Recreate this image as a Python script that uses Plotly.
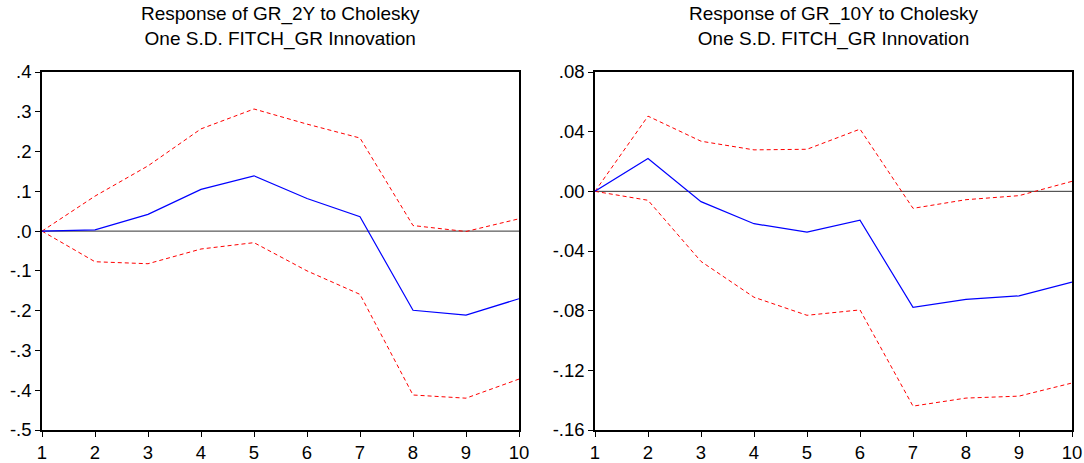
import plotly.graph_objects as go

periods = [1, 2, 3, 4, 5, 6, 7, 8, 9, 10]

# Response of GR_2Y
gr2y_resp = [0.0, 0.003, 0.042, 0.105, 0.139, 0.082, 0.036, -0.199, -0.211, -0.170]
gr2y_upper = [0.0, 0.088, 0.164, 0.257, 0.307, 0.269, 0.234, 0.014, -0.001, 0.031]
gr2y_lower = [0.0, -0.077, -0.082, -0.045, -0.029, -0.100, -0.159, -0.412, -0.420, -0.372]

# Response of GR_10Y
gr10y_resp = [0.0, 0.022, -0.0069, -0.0217, -0.0273, -0.0193, -0.0778, -0.0724, -0.0701, -0.0609]
gr10y_upper = [0.0, 0.0504, 0.0336, 0.0278, 0.0282, 0.0417, -0.0114, -0.0056, -0.0029, 0.0067]
gr10y_lower = [0.0, -0.006, -0.047, -0.0710, -0.0831, -0.0795, -0.1440, -0.1386, -0.1373, -0.1285]

left_ticks = [-0.5, -0.4, -0.3, -0.2, -0.1, 0.0, 0.1, 0.2, 0.3, 0.4]
left_labels = ["-.5", "-.4", "-.3", "-.2", "-.1", ".0", ".1", ".2", ".3", ".4"]
right_ticks = [-0.16, -0.12, -0.08, -0.04, 0.0, 0.04, 0.08]
right_labels = ["-.16", "-.12", "-.08", "-.04", ".00", ".04", ".08"]

titles = ["Response of GR_2Y to Cholesky<br>One S.D. FITCH_GR Innovation",
          "Response of GR_10Y to Cholesky<br>One S.D. FITCH_GR Innovation"]

W, H = 1084, 463
FONT = "Liberation Sans, Arial, sans-serif"
TITLE_FS = 19
TICK_FS = 18.5

fig = go.Figure()

panels = [
    dict(resp=gr2y_resp, up=gr2y_upper, lo=gr2y_lower, xa="x", ya="y",
         rng=[-0.5, 0.4], tv=left_ticks, tt=left_labels, x0=42, x1=519),
    dict(resp=gr10y_resp, up=gr10y_upper, lo=gr10y_lower, xa="x2", ya="y2",
         rng=[-0.16, 0.08], tv=right_ticks, tt=right_labels, x0=595, x1=1072),
]

top_px, bot_px = 72, 430
ydom = [1 - bot_px / H, 1 - top_px / H]

for i, p in enumerate(panels):
    # zero line
    fig.add_trace(go.Scatter(x=[periods[0], periods[-1]], y=[0, 0], mode="lines",
                             line=dict(color="#333333", width=1),
                             xaxis=p["xa"], yaxis=p["ya"], showlegend=False, hoverinfo="skip"))
    for series in (p["up"], p["lo"]):
        fig.add_trace(go.Scatter(x=periods, y=series, mode="lines",
                                 line=dict(color="#ff0000", width=1, dash="4px,3px"),
                                 xaxis=p["xa"], yaxis=p["ya"], showlegend=False))
    fig.add_trace(go.Scatter(x=periods, y=p["resp"], mode="lines",
                             line=dict(color="#0000ff", width=1.2),
                             xaxis=p["xa"], yaxis=p["ya"], showlegend=False))

    suffix = "" if i == 0 else "2"
    fig.update_layout(**{
        "xaxis" + suffix: dict(
            domain=[p["x0"] / W, p["x1"] / W], range=[1, 10],
            tickmode="array", tickvals=periods, ticktext=[str(v) for v in periods],
            ticks="outside", ticklen=5, tickwidth=1, tickcolor="black",
            showline=True, linecolor="black", linewidth=1.5, mirror=True,
            showgrid=False, zeroline=False, anchor="y" + suffix, automargin=False,
            tickfont=dict(family=FONT, size=TICK_FS, color="black"),
        ),
        "yaxis" + suffix: dict(
            domain=ydom, range=p["rng"],
            tickmode="array", tickvals=p["tv"], ticktext=p["tt"],
            ticks="outside", ticklen=5, tickwidth=1, tickcolor="black",
            showline=True, linecolor="black", linewidth=1.5, mirror=True,
            showgrid=False, zeroline=False, anchor="x" + suffix, automargin=False,
            tickfont=dict(family=FONT, size=TICK_FS, color="black"),
        ),
    })
    fig.add_annotation(text=titles[i], xref="paper", yref="paper",
                       x=(p["x0"] + p["x1"]) / 2 / W, y=1 - 1 / H,
                       xanchor="center", yanchor="top", showarrow=False,
                       font=dict(family=FONT, size=TITLE_FS, color="black"), align="center")

fig.update_layout(template="none", width=W, height=H, margin=dict(l=0, r=0, t=0, b=0),
                  plot_bgcolor="white", paper_bgcolor="white", showlegend=False)

fig.write_html("out.html")
